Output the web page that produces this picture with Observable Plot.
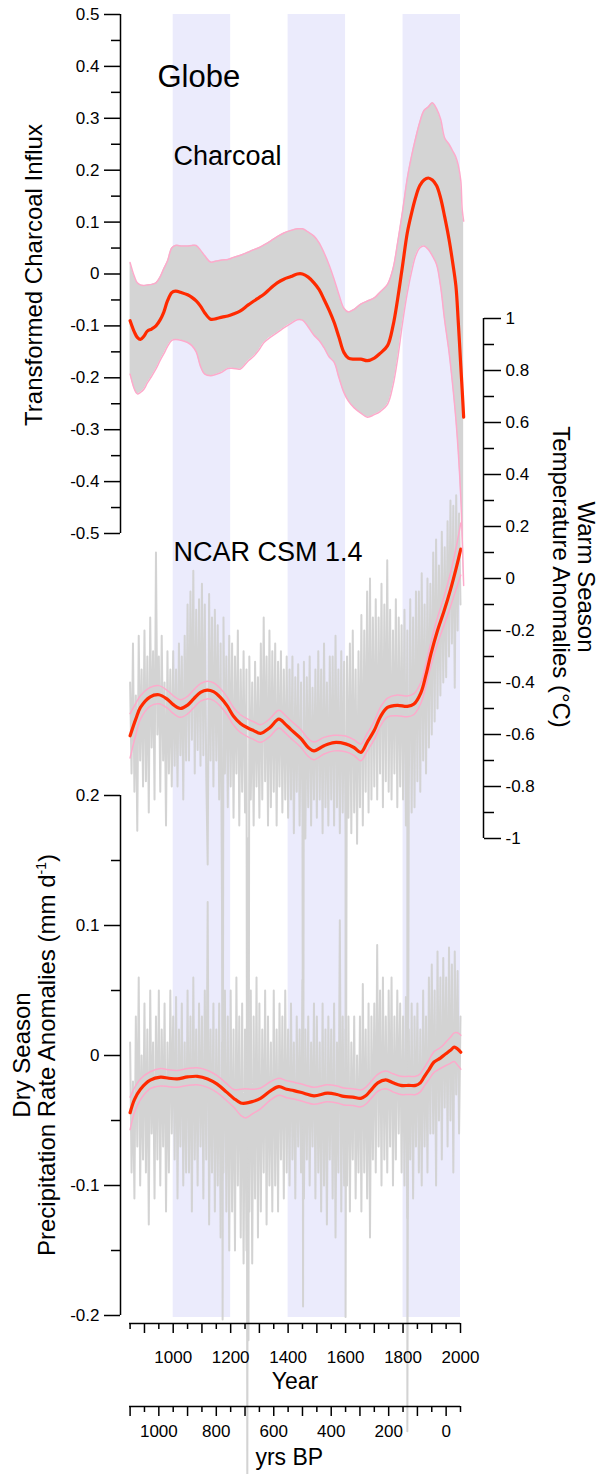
<!DOCTYPE html>
<html><head><meta charset="utf-8">
<script src="https://cdn.jsdelivr.net/npm/d3@7"></script>
<script src="https://cdn.jsdelivr.net/npm/@observablehq/plot@0.6"></script>
<style>
html,body{margin:0;padding:0;background:#fff;}
#wrap{position:relative;width:600px;height:1474px;overflow:hidden;font-family:"Liberation Sans",Arial,sans-serif;}
#wrap svg{position:absolute;left:0;top:0;}
.ttl{position:absolute;font-size:24px;line-height:25px;text-align:center;white-space:nowrap;color:#000;transform-origin:50% 50%;}
.ttl sup{font-size:14px;line-height:0;vertical-align:9px;}
</style></head><body><div id="wrap"></div>
<script>
// ---------------- DATA ----------------
const bandStart = [1000, 1400, 1800];
const bandEnd = [1200, 1600, 2000];

const charcoalYear = [850,865,875,886,898,910,925,940,955,967,980,995,1008,1030,1050,1065,1080,1095,1110,1130,1150,1170,1190,1210,1234,1260,1281,1300,1316,1340,1362,1385,1410,1432,1450,1470,1490,1508,1525,1543,1560,1577,1594,1610,1630,1653,1676,1700,1720,1746,1765,1781,1798,1815,1830,1844,1858,1873,1888,1902,1917,1931,1945,1960,1972,1984,1992,2001,2006,2011];
const charcoalMean = [-0.090,-0.112,-0.122,-0.126,-0.120,-0.110,-0.106,-0.100,-0.088,-0.074,-0.052,-0.036,-0.033,-0.036,-0.040,-0.045,-0.052,-0.062,-0.075,-0.087,-0.086,-0.083,-0.081,-0.077,-0.071,-0.060,-0.052,-0.045,-0.039,-0.027,-0.017,-0.010,-0.005,0.000,0.000,-0.006,-0.017,-0.030,-0.049,-0.070,-0.093,-0.122,-0.151,-0.162,-0.164,-0.164,-0.167,-0.162,-0.153,-0.138,-0.100,-0.049,0.015,0.080,0.118,0.148,0.170,0.181,0.185,0.181,0.170,0.146,0.110,0.067,0.025,-0.023,-0.090,-0.177,-0.225,-0.276];
const charcoalUpper = [0.022,-0.005,-0.017,-0.021,-0.022,-0.021,-0.020,-0.017,-0.005,0.010,0.025,0.050,0.055,0.054,0.054,0.055,0.055,0.046,0.035,0.023,0.025,0.027,0.028,0.032,0.036,0.042,0.047,0.051,0.056,0.064,0.072,0.079,0.084,0.087,0.087,0.081,0.073,0.060,0.041,0.017,-0.010,-0.040,-0.066,-0.073,-0.068,-0.058,-0.052,-0.046,-0.035,-0.020,0.010,0.060,0.120,0.185,0.228,0.262,0.292,0.315,0.322,0.330,0.318,0.298,0.262,0.250,0.238,0.225,0.210,0.180,0.124,0.102];
const charcoalLower = [-0.193,-0.222,-0.231,-0.228,-0.222,-0.210,-0.197,-0.183,-0.166,-0.154,-0.140,-0.128,-0.126,-0.128,-0.132,-0.138,-0.150,-0.178,-0.193,-0.196,-0.193,-0.189,-0.182,-0.182,-0.183,-0.168,-0.158,-0.145,-0.132,-0.121,-0.113,-0.104,-0.095,-0.088,-0.089,-0.102,-0.118,-0.128,-0.142,-0.160,-0.170,-0.200,-0.228,-0.245,-0.258,-0.268,-0.276,-0.271,-0.265,-0.251,-0.215,-0.164,-0.095,-0.036,0.005,0.035,0.050,0.054,0.047,0.035,0.018,-0.025,-0.090,-0.150,-0.210,-0.280,-0.340,-0.430,-0.510,-0.600];

const tempYear = [850,870,886,920,950,979,1000,1025,1050,1072,1095,1118,1140,1165,1188,1210,1234,1260,1280,1304,1335,1368,1390,1409,1444,1470,1490,1525,1560,1600,1629,1653,1675,1699,1722,1746,1780,1815,1838,1862,1880,1897,1920,1943,1966,1985,2001];
const tempMean = [-0.605,-0.540,-0.496,-0.455,-0.447,-0.464,-0.485,-0.500,-0.487,-0.462,-0.438,-0.429,-0.435,-0.458,-0.490,-0.530,-0.558,-0.575,-0.585,-0.596,-0.575,-0.541,-0.560,-0.580,-0.615,-0.650,-0.663,-0.643,-0.631,-0.636,-0.650,-0.669,-0.630,-0.586,-0.530,-0.496,-0.488,-0.492,-0.483,-0.440,-0.370,-0.291,-0.200,-0.124,-0.040,0.040,0.113];
const tempUpper = [-0.520,-0.480,-0.451,-0.419,-0.412,-0.430,-0.451,-0.466,-0.453,-0.428,-0.404,-0.395,-0.401,-0.424,-0.456,-0.496,-0.524,-0.541,-0.551,-0.562,-0.541,-0.507,-0.526,-0.546,-0.581,-0.616,-0.629,-0.611,-0.603,-0.606,-0.620,-0.637,-0.596,-0.551,-0.494,-0.460,-0.448,-0.452,-0.443,-0.400,-0.328,-0.246,-0.150,-0.069,0.025,0.120,0.213];
const tempLower = [-0.690,-0.600,-0.541,-0.491,-0.482,-0.498,-0.519,-0.534,-0.521,-0.496,-0.472,-0.463,-0.469,-0.492,-0.524,-0.564,-0.592,-0.609,-0.619,-0.630,-0.609,-0.575,-0.594,-0.614,-0.649,-0.684,-0.697,-0.675,-0.663,-0.666,-0.680,-0.701,-0.664,-0.621,-0.566,-0.532,-0.528,-0.532,-0.523,-0.480,-0.412,-0.336,-0.250,-0.179,-0.105,-0.040,0.013];

// annual model output, read every 5 years from 850 to 2000
const noiseStartYear = 850, noiseStepYears = 5;
const tempRaw = [
-0.40,-0.75,-0.25,-0.82,-0.45,-0.97,-0.22,-0.70,-0.35,-0.80,
-0.20,-0.78,-0.30,-0.90,-0.15,-0.65,-0.28,-0.85,0.10,-0.60,
-0.30,-0.82,-0.22,-0.70,-0.40,-0.95,-0.28,-0.75,-0.35,-0.80,
-0.28,-0.72,-0.35,-0.80,-0.25,-0.68,-0.30,-0.85,-0.22,-0.70,
-0.10,-0.70,-0.05,-0.62,0.03,-0.75,-0.12,-0.66,-0.08,-0.72,
-0.02,-0.68,-0.10,-0.75,-1.10,-0.06,-0.70,-0.15,-0.80,-0.12,
-0.70,-0.18,-0.85,-0.25,-1.28,-0.15,-0.75,-0.30,-0.88,-0.22,
-0.80,-0.25,-0.92,-0.30,-0.75,-0.20,-0.95,-0.35,-0.82,-0.28,
-0.90,-0.35,-1.00,-0.30,-0.85,-0.40,-0.95,-0.32,-0.80,-0.38,
-0.92,-0.25,-0.85,-0.15,-0.78,-0.30,-0.95,-0.20,-0.88,-0.28,
-0.82,-0.25,-0.95,-0.32,-0.80,-0.28,-0.90,-0.35,-0.85,-0.30,
-0.92,-0.35,-0.85,-0.30,-0.98,-0.38,-0.82,-0.33,-0.95,-0.40,
-0.90,-0.32,-1.00,-0.38,-0.88,-0.30,-0.95,-0.42,-0.85,-0.35,
-0.92,-0.28,-0.85,-0.35,-0.98,-0.25,-0.88,-0.40,-0.95,-0.30,
-0.85,-0.30,-0.95,-0.22,-0.88,-0.35,-0.98,-0.28,-0.90,-0.32,
-1.00,-0.30,-0.92,-0.25,-0.98,-0.20,-0.90,-0.35,-1.02,-0.28,
-0.88,-0.14,-0.95,-0.20,-0.82,-0.05,-0.90,0.00,-0.85,-0.15,
-0.80,-0.08,-0.85,-0.15,-0.75,-0.02,-0.88,-0.10,-0.78,0.07,
-0.82,-0.12,-0.85,-0.20,-0.75,-0.08,-0.88,-0.15,-0.80,-0.18,
-0.85,-0.12,-0.95,-0.20,-0.82,-0.08,-0.90,-0.15,-0.88,-0.05,
-0.78,-0.05,-0.82,0.02,-0.70,-0.10,-0.75,0.00,-0.65,-0.02,
-0.60,0.10,-0.55,0.15,-0.50,0.05,-0.45,0.18,-0.40,0.12,
-0.38,0.22,-0.30,0.30,-0.25,0.28,-0.42,0.32,-0.20,0.25,
-0.10];
// large single-year volcanic cooling spikes
const volcYear = [1172, 1258, 1262, 1452, 1600, 1815];
const volcTemp = [-2.85, -3.50, -2.93, -2.80, -2.84, -3.28];

const precipYear = [850,865,886,920,956,985,1014,1050,1084,1120,1153,1185,1211,1235,1252,1275,1304,1340,1368,1395,1420,1455,1490,1537,1570,1594,1625,1653,1670,1687,1712,1740,1765,1792,1820,1844,1860,1873,1890,1908,1930,1949,1965,1978,1990,2001];
const precipMean = [-0.044,-0.034,-0.026,-0.019,-0.0167,-0.0175,-0.018,-0.0165,-0.016,-0.018,-0.022,-0.028,-0.033,-0.0365,-0.0367,-0.0355,-0.033,-0.027,-0.024,-0.026,-0.027,-0.029,-0.031,-0.029,-0.030,-0.0315,-0.032,-0.033,-0.031,-0.027,-0.021,-0.0187,-0.021,-0.023,-0.023,-0.023,-0.021,-0.0167,-0.011,-0.005,-0.002,0.0013,0.004,0.0064,0.005,0.0025];
const precipUpper = [-0.032,-0.025,-0.018,-0.0125,-0.010,-0.011,-0.0115,-0.010,-0.0095,-0.0115,-0.0155,-0.0215,-0.0262,-0.026,-0.0256,-0.026,-0.025,-0.020,-0.0175,-0.0195,-0.0205,-0.0225,-0.0245,-0.0225,-0.0235,-0.025,-0.0255,-0.0265,-0.0245,-0.0205,-0.0145,-0.012,-0.014,-0.016,-0.016,-0.016,-0.014,-0.0097,-0.0035,0.003,0.006,0.0103,0.014,0.0174,0.0175,0.0155];
const precipLower = [-0.057,-0.044,-0.034,-0.0255,-0.0234,-0.024,-0.0245,-0.023,-0.0225,-0.0245,-0.0285,-0.0345,-0.0398,-0.046,-0.048,-0.045,-0.041,-0.034,-0.0305,-0.0325,-0.0335,-0.0355,-0.0375,-0.0355,-0.0365,-0.038,-0.0385,-0.0395,-0.0375,-0.0335,-0.0275,-0.0255,-0.028,-0.030,-0.030,-0.030,-0.028,-0.0237,-0.0185,-0.013,-0.010,-0.0077,-0.006,-0.0046,-0.0075,-0.0105];
const precipRaw = [
0.01,-0.09,-0.02,-0.11,0.03,-0.07,0.06,-0.10,0.00,-0.08,
0.04,-0.09,0.02,-0.13,0.05,-0.06,0.01,-0.11,0.03,-0.08,
0.05,-0.10,0.02,-0.07,0.04,-0.12,0.01,-0.09,0.05,-0.06,
0.03,-0.08,0.045,-0.11,0.02,-0.07,0.04,-0.10,0.01,-0.09,
0.05,-0.09,0.03,-0.12,0.06,-0.08,0.02,-0.10,0.04,-0.07,
0.03,-0.11,0.05,-0.08,0.118,-0.13,0.02,-0.09,0.04,-0.12,
0.02,-0.10,0.04,-0.14,0.01,-0.09,0.05,-0.12,0.03,-0.15,
0.05,-0.12,0.02,-0.15,0.06,-0.10,0.03,-0.14,0.04,-0.16,
0.02,-0.15,0.087,-0.12,0.05,-0.16,0.03,-0.11,0.06,-0.14,
0.04,-0.12,0.02,-0.09,0.05,-0.13,0.03,-0.10,0.01,-0.12,
0.05,-0.10,0.02,-0.12,0.04,-0.08,0.03,-0.11,0.05,-0.09,
0.02,-0.10,0.04,-0.08,0.01,-0.11,0.03,-0.07,0.02,-0.09,
0.058,-0.11,0.02,-0.08,0.03,-0.10,0.01,-0.07,0.04,-0.11,
0.03,-0.09,0.01,-0.12,0.04,-0.10,0.02,-0.13,0.03,-0.08,
0.02,-0.11,0.04,-0.14,0.01,-0.09,0.104,-0.12,0.03,-0.10,
0.02,-0.10,0.03,-0.12,0.01,-0.08,0.03,-0.11,0.00,-0.09,
0.03,-0.12,0.055,-0.09,0.02,-0.11,0.04,-0.14,0.03,-0.08,
0.04,-0.09,0.085,-0.07,0.05,-0.10,0.06,-0.08,0.03,-0.09,
0.05,-0.07,0.06,-0.10,0.03,-0.08,0.05,-0.06,0.04,-0.09,
0.03,-0.10,0.045,-0.125,0.02,-0.08,0.04,-0.11,0.03,-0.07,
0.04,-0.09,0.02,-0.10,0.05,-0.07,0.03,-0.09,0.06,-0.06,
0.07,-0.06,0.05,-0.10,0.08,-0.05,0.06,-0.08,0.075,-0.04,
0.06,-0.07,0.083,-0.05,0.07,-0.09,0.08,-0.03,0.065,-0.06,
0.03];

const charcoalTicks = [0.5,0.4,0.3,0.2,0.1,0,-0.1,-0.2,-0.3,-0.4,-0.5];
const charcoalMinor = [0.45,0.35,0.25,0.15,0.05,-0.05,-0.15,-0.25,-0.35,-0.45];
const tempTicks = [1,0.8,0.6,0.4,0.2,0,-0.2,-0.4,-0.6,-0.8,-1];
const tempMinor = [0.9,0.7,0.5,0.3,0.1,-0.1,-0.3,-0.5,-0.7,-0.9];
const precipTicks = [0.2,0.1,0,-0.1,-0.2];
const precipMinor = [0.15,0.05,-0.05,-0.15];
const yearMajor = [900,1000,1100,1200,1300,1400,1500,1600,1700,1800,1900,2000];
const yearMinor = [850,950,1050,1150,1250,1350,1450,1550,1650,1750,1850,1950];
const yearLabels = [1000,1200,1400,1600,1800,2000];
const bpMajor = [1100,1000,900,800,700,600,500,400,300,200,100,0];
const bpMinor = [1050,950,850,750,650,550,450,350,250,150,50,-50];
const bpLabels = [1000,800,600,400,200,0];
const bpRefYear = 1950;

// ---------------- LAYOUT ----------------
const W = 600, H = 1474;
const FONT = '"Liberation Sans", Arial, Helvetica, sans-serif';
const RED = "#ff2a00", PINK = "#fdaacb", FILL = "#d4d4d4", NOISE = "#d3d3d3", BAND = "#ebebfc";
const PX1000 = 172.7, PX2000 = 460, K = (PX2000 - PX1000) / 1000;
const axisStart = 848;
const fmt = d => String(d);
const wrap = document.getElementById("wrap");

function xDomain(l, r) { return [1000 - (PX1000 - l) / K, 2000 + (r - PX2000) / K]; }
function layer({left = 120, right = 460, top, bottom, y, marks}) {
  const svg = Plot.plot({
    width: W, height: H,
    marginLeft: left, marginRight: W - right, marginTop: top, marginBottom: H - bottom,
    x: {domain: xDomain(left, right), axis: null},
    y: {...y, axis: null},
    style: {fontFamily: FONT, fontSize: "17px", color: "#000", background: "transparent"},
    marks
  });
  svg.style.background = "transparent";
  wrap.append(svg);
  return svg;
}

const zip = (xs, cols) => xs.map((x, i) => { const o = {year: x}; for (const k in cols) o[k] = cols[k][i]; return o; });
const charcoal = zip(charcoalYear, {mean: charcoalMean, hi: charcoalUpper, lo: charcoalLower});
const temp = zip(tempYear, {mean: tempMean, hi: tempUpper, lo: tempLower});
const precip = zip(precipYear, {mean: precipMean, hi: precipUpper, lo: precipLower});
const tempNoise = tempRaw.map((v, i) => ({year: noiseStartYear + i * noiseStepYears, v}))
  .concat(volcYear.map((y, i) => ({year: y, v: volcTemp[i]})))
  .sort((a, b) => a.year - b.year);
const precipNoise = precipRaw.map((v, i) => ({year: noiseStartYear + i * noiseStepYears, v}));
const bands = bandStart.map((s, i) => ({s, e: bandEnd[i]}));

// 1) shaded intervals
layer({top: 14, bottom: 1317, y: {domain: [0, 1]}, marks: [
  Plot.rect(bands, {x1: "s", x2: "e", y1: 0, y2: 1, fill: BAND})
]});

// 2) temperature raw output
layer({top: 318, bottom: 838, y: {domain: [-1, 1]}, marks: [
  Plot.line(tempNoise, {x: "year", y: "v", stroke: NOISE, strokeWidth: 2})
]});

// 3) precipitation panel
layer({top: 795, bottom: 1315, y: {domain: [-0.2, 0.2]}, marks: [
  Plot.line(precipNoise, {x: "year", y: "v", stroke: NOISE, strokeWidth: 2}),
  Plot.line(precip, {x: "year", y: "hi", stroke: PINK, strokeWidth: 1.5, curve: "catmull-rom"}),
  Plot.line(precip, {x: "year", y: "lo", stroke: PINK, strokeWidth: 1.5, curve: "catmull-rom"}),
  Plot.line(precip, {x: "year", y: "mean", stroke: RED, strokeWidth: 3.2, curve: "catmull-rom"}),
  Plot.ruleX([xDomain(120, 460)[0]], {y1: -0.2, y2: 0.2, stroke: "#000", strokeWidth: 1.5}),
  Plot.axisY({anchor: "left", ticks: precipTicks, tickSize: 16, tickPadding: 5, tickFormat: fmt, fontSize: 17, strokeWidth: 1.5}),
  Plot.axisY({anchor: "left", ticks: precipMinor, tickSize: 9, tickFormat: () => "", strokeWidth: 1.5})
]});

// 4) temperature smoothed + right axis
const tRight = 483;
layer({right: tRight, top: 318, bottom: 838, y: {domain: [-1, 1]}, marks: [
  Plot.line(temp, {x: "year", y: "hi", stroke: PINK, strokeWidth: 1.5, curve: "catmull-rom"}),
  Plot.line(temp, {x: "year", y: "lo", stroke: PINK, strokeWidth: 1.5, curve: "catmull-rom"}),
  Plot.line(temp, {x: "year", y: "mean", stroke: RED, strokeWidth: 3.2, curve: "catmull-rom"}),
  Plot.ruleX([xDomain(120, tRight)[1]], {y1: -1, y2: 1, stroke: "#000", strokeWidth: 1.5}),
  Plot.axisY({anchor: "right", ticks: tempTicks, tickSize: 17, tickPadding: 5, tickFormat: fmt, fontSize: 17, strokeWidth: 1.5}),
  Plot.axisY({anchor: "right", ticks: tempMinor, tickSize: 10, tickFormat: () => "", strokeWidth: 1.5}),
  Plot.text(["NCAR CSM 1.4"], {x: [1001], y: [0.1015], textAnchor: "start", fontSize: 27, fill: "#000"})
]});

// 5) charcoal panel
layer({top: 14, bottom: 533, y: {domain: [-0.5, 0.5]}, marks: [
  Plot.areaY(charcoal, {x: "year", y1: "lo", y2: "hi", fill: FILL, curve: "catmull-rom"}),
  Plot.line(charcoal, {x: "year", y: "hi", stroke: PINK, strokeWidth: 1.5, curve: "catmull-rom"}),
  Plot.line(charcoal, {x: "year", y: "lo", stroke: PINK, strokeWidth: 1.5, curve: "catmull-rom"}),
  Plot.line(charcoal, {x: "year", y: "mean", stroke: RED, strokeWidth: 3.2, curve: "catmull-rom"}),
  Plot.ruleX([xDomain(120, 460)[0]], {y1: -0.5, y2: 0.5, stroke: "#000", strokeWidth: 1.5}),
  Plot.axisY({anchor: "left", ticks: charcoalTicks, tickSize: 16, tickPadding: 5, tickFormat: fmt, fontSize: 17, strokeWidth: 1.5}),
  Plot.axisY({anchor: "left", ticks: charcoalMinor, tickSize: 9, tickFormat: () => "", strokeWidth: 1.5}),
  Plot.text(["Globe"], {x: [945], y: [0.38], textAnchor: "start", fontSize: 31, fill: "#000"}),
  Plot.text(["Charcoal"], {x: [1001], y: [0.226], textAnchor: "start", fontSize: 27, fill: "#000"})
]});

// 6) Year axis
layer({top: 0, bottom: 1323, y: {domain: [0, 1]}, marks: [
  Plot.ruleY([0], {x1: axisStart, x2: 2000, stroke: "#000", strokeWidth: 1.5}),
  Plot.axisX({anchor: "bottom", ticks: yearMajor, tickSize: 10, tickPadding: 17, fontSize: 17, strokeWidth: 1.5,
    tickFormat: d => yearLabels.includes(d) ? String(d) : ""}),
  Plot.axisX({anchor: "bottom", ticks: yearMinor, tickSize: 6, tickFormat: () => "", strokeWidth: 1.5}),
  Plot.text(["Year"], {x: [(axisStart + 2000) / 2], frameAnchor: "bottom", lineAnchor: "middle", dy: 58, fontSize: 23, fill: "#000"})
]});

// 7) yrs BP axis
layer({top: 0, bottom: 1406, y: {domain: [0, 1]}, marks: [
  Plot.ruleY([0], {x1: axisStart, x2: 2000, stroke: "#000", strokeWidth: 1.5}),
  Plot.axisX({anchor: "bottom", ticks: bpMajor.map(b => bpRefYear - b), tickSize: 10, tickPadding: 8, fontSize: 17, strokeWidth: 1.5,
    tickFormat: d => bpLabels.includes(bpRefYear - d) ? String(bpRefYear - d) : ""}),
  Plot.axisX({anchor: "bottom", ticks: bpMinor.map(b => bpRefYear - b), tickSize: 6, tickFormat: () => "", strokeWidth: 1.5}),
  Plot.text(["yrs BP"], {x: [(axisStart + 2000) / 2 - 20], frameAnchor: "bottom", lineAnchor: "middle", dy: 51, fontSize: 23, fill: "#000"})
]});

// axis titles
function title(html, cx, cy, deg) {
  const d = document.createElement("div");
  d.className = "ttl";
  d.innerHTML = html;
  d.style.left = cx + "px"; d.style.top = cy + "px";
  d.style.transform = `translate(-50%,-50%) rotate(${deg}deg)`;
  wrap.append(d);
}
title("Transformed Charcoal Influx", 33, 275, -90);
title("Dry Season<br>Precipitation Rate Anomalies (mm d<sup>-1</sup>)", 34, 1055, -90);
title("Warm Season<br>Temperature Anomalies (°C)", 574, 577, 90);
</script></body></html>
